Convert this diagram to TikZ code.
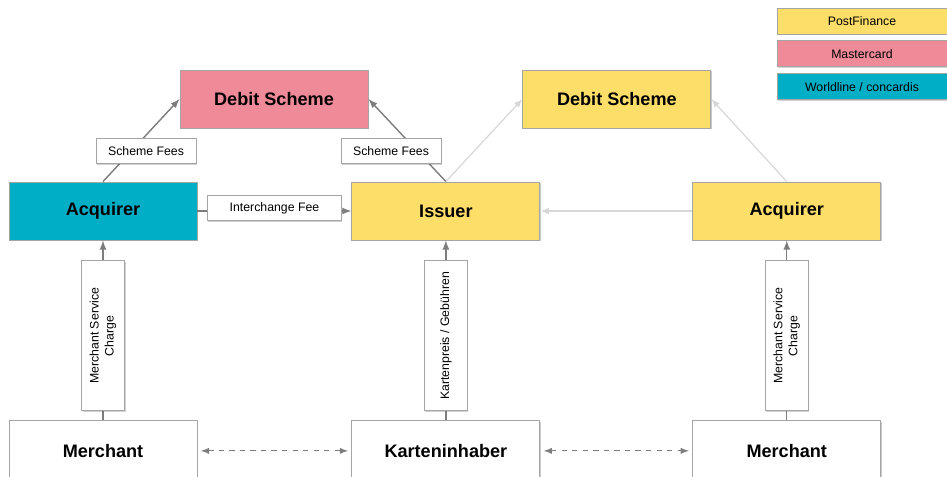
\documentclass[tikz,border=0pt]{standalone}
\usepackage{fontspec}
\setmainfont{Liberation Sans}
\usetikzlibrary{positioning}
\usetikzlibrary{shadows}
\definecolor{pfyellow}{RGB}{253,222,104}
\definecolor{mcred}{RGB}{239,139,152}
\definecolor{wlblue}{RGB}{0,174,197}
\definecolor{edgegrey}{RGB}{165,165,165}
\definecolor{flowdark}{RGB}{125,125,125}
\definecolor{flowlight}{RGB}{215,215,215}
\tikzset{
	block/.style={
		rectangle,
		draw=edgegrey,
		line width=0.5pt,
		align=center,
		minimum width=3.76cm,
		minimum height=1.16cm,
		inner sep=0pt,
		font=\fontsize{10.3}{12}\selectfont\bfseries,
		drop shadow={shadow xshift=0.8pt, shadow yshift=-0.8pt, opacity=0.35, fill=black!60}
	},
	fee/.style={
		rectangle,
		draw=edgegrey,
		fill=white,
		text=black,
		line width=0.5pt,
		align=center,
		minimum height=0.5cm,
		inner sep=0pt,
		font=\fontsize{7}{8.5}\selectfont,
		drop shadow={shadow xshift=0.6pt, shadow yshift=-0.6pt, opacity=0.3, fill=black!60}
	},
	legendbox/.style={
		rectangle,
		draw=edgegrey,
		line width=0.5pt,
		minimum width=3.4cm,
		minimum height=0.52cm,
		inner sep=0pt,
		font=\fontsize{7}{8.5}\selectfont,
		drop shadow={shadow xshift=0.6pt, shadow yshift=-0.6pt, opacity=0.3, fill=black!60}
	},
	darkflow/.style={-latex, flowdark, line width=0.8pt},
	lightflow/.style={-latex, flowlight, line width=0.7pt}
}

\begin{document}
\begin{tikzpicture}
			\useasboundingbox (0,0) rectangle (18.94,-9.54);

			\draw node[block, fill=wlblue](AcquirerWL) at (2.06,-4.22){Acquirer};
			\draw node[block, fill=pfyellow, right=3.08cm of AcquirerWL](Issuer){Issuer};
			\draw node[block, fill=pfyellow, right=3.04cm of Issuer](AcquirerPF){Acquirer};
			\draw node[block, fill=mcred](SchemeMC) at (5.48,-1.98){Debit Scheme};
			\draw node[block, fill=pfyellow, right=3.08cm of SchemeMC](SchemePF){Debit Scheme};
			\draw node[block, fill=white, minimum height=1.2cm, below=3.6cm of AcquirerWL](MerchantWL){Merchant};
			\draw node[block, fill=white, minimum height=1.2cm, below=3.6cm of Issuer](Holder){Karteninhaber};
			\draw node[block, fill=white, minimum height=1.2cm, below=3.6cm of AcquirerPF](MerchantPF){Merchant};

			\draw node[legendbox, fill=pfyellow](LegendPF) at (17.24,-0.42){PostFinance};
			\draw node[legendbox, fill=mcred, below=0.12cm of LegendPF](LegendMC){Mastercard};
			\draw node[legendbox, fill=wlblue, below=0.12cm of LegendMC](LegendWL){Worldline / concardis};

			\draw [darkflow] (AcquirerWL.north) -- (SchemeMC.west);
			\draw [darkflow] (Issuer.north) -- (SchemeMC.east);
			\draw [lightflow] (Issuer.north) -- (SchemePF.west);
			\draw [lightflow] (AcquirerPF.north) -- (SchemePF.east);
			\draw [lightflow] (AcquirerPF.west) -- (Issuer.east);
			\draw [darkflow] (AcquirerWL.east) -- node[midway, fee, minimum width=2.68cm, yshift=1.5pt]{Interchange Fee} (Issuer.west);

			\draw node[fee, minimum width=2cm](FeesMC) at (2.92,-3.02){Scheme Fees};
			\draw node[fee, minimum width=2cm](FeesPF) at (7.82,-3.02){Scheme Fees};

			\draw [darkflow] (MerchantWL.north) -- node[pos=0.47, fee, rotate=90, minimum width=3cm, minimum height=0.86cm]{Merchant Service\\ Charge} (AcquirerWL.south);
			\draw [darkflow] (Holder.north) -- node[pos=0.47, fee, rotate=90, minimum width=3cm, minimum height=0.86cm]{Kartenpreis / Gebühren} (Issuer.south);
			\draw [darkflow] (MerchantPF.north) -- node[pos=0.47, fee, rotate=90, minimum width=3cm, minimum height=0.86cm]{Merchant Service\\ Charge} (AcquirerPF.south);

			\draw [latex-latex, dashed, flowdark, line width=0.6pt] ([xshift=2pt] MerchantWL.east) -- ([xshift=-2pt] Holder.west);
			\draw [latex-latex, dashed, flowdark, line width=0.6pt] ([xshift=2pt] Holder.east) -- ([xshift=-2pt] MerchantPF.west);
		\end{tikzpicture}
\end{document}
